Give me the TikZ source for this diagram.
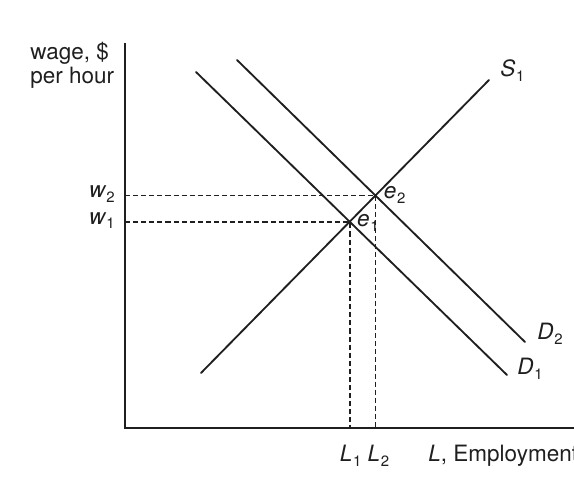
\documentclass[tikz,border=0pt]{standalone}
\usepackage{fontspec}
\setmainfont{TeX Gyre Heros}
\usetikzlibrary{calc,intersections}
\definecolor{inkcol}{gray}{0.12}
\newcommand{\lsub}[1]{\kern0.5pt\raisebox{-2.6pt}{\fontsize{8.5}{9}\selectfont\upshape #1}}

\begin{document}
\begin{tikzpicture}[
  curve/.style={inkcol,line width=1.05pt,line cap=round},
  guide/.style={inkcol,line width=0.95pt,dash pattern=on 2.9pt off 1.7pt},
  lab/.style={font=\fontsize{12.8}{14}\selectfont\itshape,inner sep=0pt,text=inkcol},
  caption/.style={font=\fontsize{12.8}{13.8}\selectfont,inner sep=0pt,text=inkcol}]
\clip (-2.5,-1.06) rectangle (8.98,8.56);
\coordinate (O) at (0,0);
\coordinate (ytop) at (0,7.7);
\coordinate (xend) at (9.2,0);
% axes
\draw[inkcol,line width=1.4pt] (ytop) -- (O) -- (xend);
% supply and the two demand lines
\draw[curve,name path=S] (1.52,1.10) coordinate (s0) -- (7.28,6.96) coordinate (s1);
\draw[curve,name path=D1] (1.42,7.12) coordinate (da0) -- (7.64,1.06) coordinate (da1);
\draw[curve,name path=D2] (2.24,7.36) coordinate (db0) -- (8.0,1.72) coordinate (db1);
\path[name intersections={of=S and D1,by=e1}];
\path[name intersections={of=S and D2,by=e2}];
% dashed guides to the axes
\foreach \e in {e1,e2}
  \draw[guide] (O |- \e) -- (\e) -- (O -| \e);
% axis captions
\node[caption,anchor=north west,align=left] (ylab) at (-1.9,7.72) {wage, \$\\per hour};
\node[caption,anchor=base west] (xlab) at (6.06,-0.68) {\textit{L}, Employment};
% wages and employment levels
\node[lab,anchor=base east] (w2) at ($(O |- e2)+(-0.2,-0.04)$) {w\lsub{2}};
\node[lab,anchor=base east] (w1) at ($(O |- e1)+(-0.2,-0.05)$) {w\lsub{1}};
\node[lab,anchor=base] (L1) at ($(O -| e1)+(0.02,-0.68)$) {L\lsub{1}};
\node[lab,anchor=base] (L2) at ($(O -| e2)+(0.06,-0.68)$) {L\lsub{2}};
% equilibria
\node[lab,anchor=base west] (e2lab) at ($(e2)+(0.16,-0.06)$) {e\lsub{2}};
\node[lab,anchor=base west] (e1lab) at ($(e1)+(0.14,-0.1)$) {e\lsub{1}};
% curve names
\node[lab,anchor=base west] (Slab) at (7.5,7.02) {S\lsub{1}};
\node[lab,anchor=base west] (D2lab) at (8.24,1.76) {D\lsub{2}};
\node[lab,anchor=base west] (D1lab) at (7.84,1.06) {D\lsub{1}};
\end{tikzpicture}
\end{document}
